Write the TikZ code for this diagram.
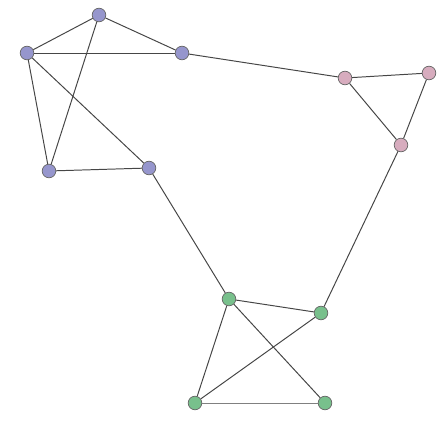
\documentclass[tikz,border=0pt]{standalone}
\usepackage{xcolor}
\usepackage{tikz}
\definecolor{bleu}{RGB}{150,150,205}
\definecolor{rose}{RGB}{215,172,190}
\definecolor{vert}{RGB}{120,192,140}
\definecolor{trait}{RGB}{70,70,70}
\begin{document}
\begin{tikzpicture}[x=0.025cm,y=-0.025cm]
			\tikzset{sommet/.style={circle, draw=gray!80!black, line width=0.5pt, minimum size=0.34cm, inner sep=0pt},
				sommetB/.style={sommet, fill=bleu},
				sommetR/.style={sommet, fill=rose},
				sommetV/.style={sommet, fill=vert},
				arete/.style={trait, line width=0.7pt}};
			\useasboundingbox (0,0) rectangle (440,425);
			\node [sommetB] (point1) at (99,15) {};
			\node [sommetB] (point2) at (27,53) {};
			\node [sommetB] (point3) at (182,53) {};
			\node [sommetB] (point4) at (49,171) {};
			\node [sommetB] (point5) at (149,168) {};
			\node [sommetR] (point6) at (345,78) {};
			\node [sommetR] (point7) at (429,73) {};
			\node [sommetR] (point8) at (401,145) {};
			\node [sommetV] (point9) at (229,299) {};
			\node [sommetV] (point10) at (321,313) {};
			\node [sommetV] (point11) at (195,403) {};
			\node [sommetV] (point12) at (325,403) {};
			\draw[arete] (point1) -- (point2);
			\draw[arete] (point1) -- (point3);
			\draw[arete] (point2) -- (point3);
			\draw[arete] (point1) -- (point4);
			\draw[arete] (point2) -- (point4);
			\draw[arete] (point2) -- (point5);
			\draw[arete] (point4) -- (point5);
			\draw[arete] (point3) -- (point6);
			\draw[arete] (point6) -- (point7);
			\draw[arete] (point6) -- (point8);
			\draw[arete] (point7) -- (point8);
			\draw[arete] (point8) -- (point10);
			\draw[arete] (point5) -- (point9);
			\draw[arete] (point9) -- (point10);
			\draw[arete] (point9) -- (point11);
			\draw[arete] (point9) -- (point12);
			\draw[arete] (point10) -- (point11);
			\draw[arete, gray] (point11) -- (point12);
			\end{tikzpicture}
\end{document}
